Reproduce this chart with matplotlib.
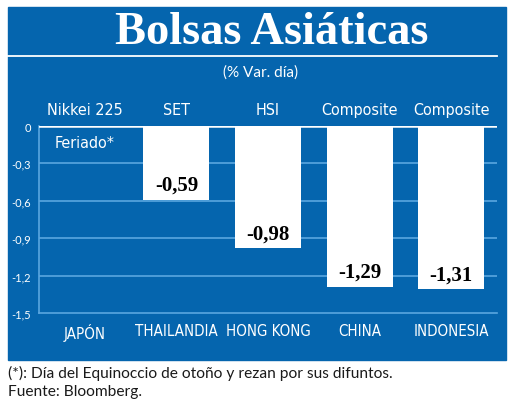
import numpy as np
import matplotlib.pyplot as plt
from matplotlib.patches import Rectangle
from matplotlib.lines import Line2D

# data
countries = ['JAPÓN', 'THAILANDIA', 'HONG KONG', 'CHINA', 'INDONESIA']
indices = ['Nikkei 225', 'SET', 'HSI', 'Composite', 'Composite']
values = [np.nan, -0.59, -0.98, -1.29, -1.31]
holiday_note = 'Feriado*'
yticks = [0, -0.3, -0.6, -0.9, -1.2, -1.5]

blue = '#0565ae'
grid_blue = '#5aa6e0'
W, H = 520, 414

fig = plt.figure(figsize=(W / 100, H / 100), dpi=100)

def fx(px):
    return px / W

def fy(py):
    return 1 - py / H

cond = dict(family='DejaVu Sans', stretch='condensed', color='white')

# blue panel and title rule
fig.patches.append(Rectangle((fx(8), fy(361)), fx(498), 353 / H,
                             transform=fig.transFigure, color=blue, zorder=-5))
fig.lines.append(Line2D([fx(8), fx(497)], [fy(57), fy(57)], transform=fig.transFigure,
                        color='white', lw=1.3, zorder=-4))

fig.text(fx(272), fy(33), 'Bolsas Asiáticas', color='white', fontsize=33.5,
         fontweight='bold', family='Liberation Serif', ha='center', va='center')
fig.text(fx(261), fy(73), '(% Var. día)', color='white', fontsize=11,
         family='Lato', ha='center', va='center')

ax = fig.add_axes([fx(39), fy(314), fx(497 - 39), (314 - 127) / H])
ax.set_facecolor('none')
ax.set_xlim(-0.5, 4.5)
ax.set_ylim(-1.5, 0)

x = np.arange(len(countries))
for t in yticks[1:-1]:
    ax.axhline(t, color=grid_blue, lw=1.2, zorder=1)
ax.axhline(0, color='white', lw=1.8, zorder=3)

bar_vals = [0 if np.isnan(v) else v for v in values]
ax.bar(x, bar_vals, width=0.72, color='white', zorder=2)

for xi, v in zip(x, values):
    if np.isnan(v):
        ax.text(xi, -0.13, holiday_note, fontsize=11.5, ha='center', va='center',
                zorder=4, **cond)
    else:
        ax.text(xi, v + 0.04, ('%.2f' % v).replace('.', ','), color='black',
                fontsize=15, fontweight='bold', family='Liberation Serif',
                ha='center', va='bottom', zorder=4)

for s in ['top', 'right']:
    ax.spines[s].set_visible(False)
for s in ['left', 'bottom']:
    ax.spines[s].set_color(grid_blue)
    ax.spines[s].set_linewidth(1.2)

ax.set_yticks(yticks)
ax.set_yticklabels(['0' if t == 0 else ('%.1f' % t).replace('.', ',') for t in yticks],
                   color='white', fontsize=8, family='Lato')
ax.tick_params(axis='y', length=0, pad=6)
ax.set_xticks(x)
ax.set_xticklabels(countries, fontsize=10.8, **cond)
ax.tick_params(axis='x', length=0, pad=7)

for xi, name in zip(x, indices):
    ax.text(xi, 1.09, name, fontsize=11.5, ha='center', va='center',
            transform=ax.get_xaxis_transform(), **cond)

fig.text(fx(8), fy(373), '(*): Día del Equinoccio de otoño y rezan por sus difuntos.',
         color='#1a1a1a', fontsize=11.2, family='Lato', ha='left', va='center')
fig.text(fx(8), fy(392), 'Fuente: Bloomberg.', color='#1a1a1a', fontsize=11.2,
         family='Lato', ha='left', va='center')

fig.savefig('out.png', dpi=100)
